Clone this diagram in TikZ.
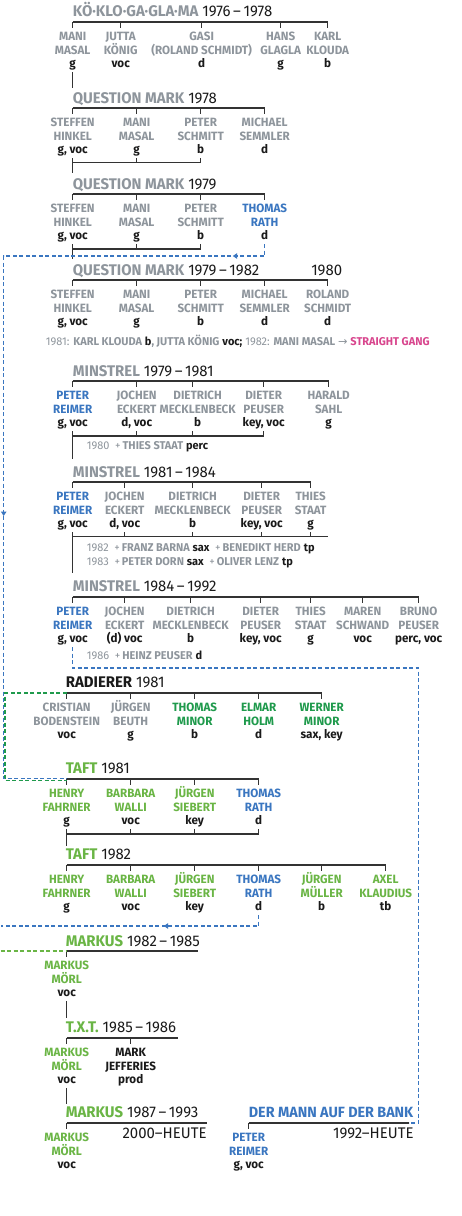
\documentclass[tikz,border=0pt]{standalone}
\usepackage{fontspec}
\setmainfont{Fira Sans}[FakeStretch=0.97]
\newfontfamily\arrowfont{DejaVu Sans}
\usetikzlibrary{arrows.meta,decorations.markings}

\definecolor{ink}{HTML}{1A1A1A}
\definecolor{stone}{HTML}{8E959C}
\definecolor{rathblue}{HTML}{3A76C0}
\definecolor{taftgreen}{HTML}{6AB545}
\definecolor{minorgreen}{HTML}{1F9A4C}
\definecolor{gangpink}{HTML}{D8458D}
\definecolor{barline}{HTML}{333333}

\newcommand{\namefont}{\fontsize{12}{13.7}\selectfont\bfseries}
\newcommand{\titlefont}{\fontsize{15.4}{18}\selectfont}
\newcommand{\notefont}{\fontsize{11.3}{13}\selectfont}
\newcommand{\who}[3]{\rule{0pt}{9.6pt}\smash{#1}\\#2\\{\color{ink}#3}\rule[-4.1pt]{0pt}{4.1pt}}
\newcommand{\band}[2]{{\color{#1}\bfseries #2}}
\newcommand{\joined}[2]{{\bfseries#1} {\bfseries\color{ink}#2}}

\begin{document}
\begin{tikzpicture}[x=1pt,y=-1pt,
  member/.style={anchor=north,align=center,inner sep=0pt,font=\namefont},
  title/.style={anchor=base west,inner sep=0pt,font=\titlefont,text=ink},
  note/.style={anchor=west,inner sep=0pt,font=\notefont,text=stone},
  bar/.style={draw=barline,line width=1.2pt},
  bluedash/.style={draw=rathblue,line width=1.4pt,dash pattern=on 4pt off 2.5pt},
  greendash/.style={line width=1.4pt,dash pattern=on 4pt off 2.5pt},
  tipat/.style={postaction={decorate,decoration={markings,mark=at position #1 with {\arrow[solid]{Triangle[length=4.5pt,width=5.5pt]}}}}}]
  \fill[white] (0,0) rectangle (461,1216);

  \node[title] (aTitle) at (72,16) {\band{stone}{KÖ·KLO·GA·GLA·MA} 1976\,–\,1978};
  \foreach \nm/\xx/\cc/\nma/\nmb/\ins in {Mani/72/stone/MANI/MASAL/g, Jutta/120/stone/JUTTA/KÖNIG/voc, Gasi/201/stone/GASI/(ROLAND SCHMIDT)/d, Hans/280/stone/HANS/GLAGLA/g, Karl/327/stone/KARL/KLOUDA/b}{
    \node[member,text=\cc] (a\nm) at (\xx,30.5) {\who{\nma}{\nmb}{\ins}};
    \draw[bar] ([yshift=8.5pt]a\nm.north) -- ([yshift=2.5pt]a\nm.north);
  }
  \draw[bar] ([yshift=8.5pt]aMani.north) -- ([yshift=8.5pt]aKarl.north);
  \draw[bar] (aMani.south) -- ++(0,16);

  \node[title] (bTitle) at (72,103) {\band{stone}{QUESTION MARK} 1978};
  \foreach \nm/\xx/\cc/\nma/\nmb/\ins in {Steffen/72/stone/STEFFEN/HINKEL/{g, voc}, Mani/136/stone/MANI/MASAL/g, Peter/200/stone/PETER/SCHMITT/b, Michael/264/stone/MICHAEL/SEMMLER/d}{
    \node[member,text=\cc] (b\nm) at (\xx,116.5) {\who{\nma}{\nmb}{\ins}};
    \draw[bar] ([yshift=8.5pt]b\nm.north) -- ([yshift=2.5pt]b\nm.north);
  }
  \draw[bar] ([yshift=8.5pt]bSteffen.north) -- ([yshift=8.5pt]bMichael.north);
  \draw[bar] ([yshift=-4.5pt]bSteffen.south) -- ([yshift=-4.5pt]bPeter.south);
  \foreach \m in {bMani,bPeter} \draw[bar] (\m.south) -- ([yshift=-4.5pt]\m.south);
  \draw[bar] (bSteffen.south) -- ++(0,14.5);

  \node[title] (cTitle) at (72,189) {\band{stone}{QUESTION MARK} 1979};
  \foreach \nm/\xx/\cc/\nma/\nmb/\ins in {Steffen/72/stone/STEFFEN/HINKEL/{g, voc}, Mani/136/stone/MANI/MASAL/g, Peter/200/stone/PETER/SCHMITT/b, Thomas/264/rathblue/THOMAS/RATH/d}{
    \node[member,text=\cc] (c\nm) at (\xx,202.5) {\who{\nma}{\nmb}{\ins}};
    \draw[bar] ([yshift=8.5pt]c\nm.north) -- ([yshift=2.5pt]c\nm.north);
  }
  \draw[bar] ([yshift=8.5pt]cSteffen.north) -- ([yshift=8.5pt]cThomas.north);
  \draw[bar] ([yshift=-5pt]cSteffen.south) -- ([yshift=-5pt]cPeter.south);
  \foreach \m in {cMani,cPeter} \draw[bar] (\m.south) -- ([yshift=-5pt]\m.south);
  \draw[bar] (cSteffen.south) -- ++(0,15);

  \node[title] (dTitle) at (72,275) {\band{stone}{QUESTION MARK} 1979\,–\,1982};
  \node[title,anchor=base] (dYear) at (326,275) {1980};
  \foreach \nm/\xx/\cc/\nma/\nmb/\ins in {Steffen/72/stone/STEFFEN/HINKEL/{g, voc}, Mani/136/stone/MANI/MASAL/g, Peter/200/stone/PETER/SCHMITT/b, Michael/264/stone/MICHAEL/SEMMLER/d, Roland/327/stone/ROLAND/SCHMIDT/d}{
    \node[member,text=\cc] (d\nm) at (\xx,288.5) {\who{\nma}{\nmb}{\ins}};
    \draw[bar] ([yshift=8.5pt]d\nm.north) -- ([yshift=2.5pt]d\nm.north);
  }
  \draw[bar] ([yshift=8.5pt]dSteffen.north) -- ([yshift=8.5pt]dRoland.north);
  \node[note] (dNote) at (45,341) {1981: \joined{KARL KLOUDA}{b}\textbf{, JUTTA KÖNIG} \textbf{\color{ink}voc;} 1982: \textbf{MANI MASAL} {\arrowfont →} \textbf{\color{gangpink}STRAIGHT GANG}};

  \node[title] (eTitle) at (72,376) {\band{stone}{MINSTREL} 1979\,–\,1981};
  \foreach \nm/\xx/\cc/\nma/\nmb/\ins in {Peter/72/rathblue/PETER/REIMER/{g, voc}, Jochen/136/stone/JOCHEN/ECKERT/{d, voc}, Dietrich/197/stone/DIETRICH/MECKLENBECK/b, Dieter/263/stone/DIETER/PEUSER/{key, voc}, Harald/328/stone/HARALD/SAHL/g}{
    \node[member,text=\cc] (e\nm) at (\xx,389.5) {\who{\nma}{\nmb}{\ins}};
  }
  \foreach \m in {ePeter,eJochen,eDieter,eHarald} \draw[bar] ([yshift=8.5pt]\m.north) -- ([yshift=2.5pt]\m.north);
  \draw[bar] ([yshift=8.5pt,xshift=-5pt]eDietrich.north) -- ([yshift=2.5pt,xshift=-5pt]eDietrich.north);
  \draw[bar] ([yshift=8.5pt]ePeter.north) -- ([yshift=8.5pt]eHarald.north);
  \draw[bar] ([yshift=-5pt]ePeter.south) -- ([yshift=-5pt]eDieter.south);
  \foreach \m in {eJochen,eDieter} \draw[bar] (\m.south) -- ([yshift=-5pt]\m.south);
  \draw[bar] ([xshift=-5pt]eDietrich.south) -- ([yshift=-5pt,xshift=-5pt]eDietrich.south);
  \draw[bar] (ePeter.south) -- ++(0,28);
  \node[note] (eNote) at (86,447) {1980\enspace+\,\joined{THIES STAAT}{perc}};

  \node[title] (fTitle) at (72,477) {\band{stone}{MINSTREL} 1981\,–\,1984};
  \foreach \nm/\xx/\cc/\nma/\nmb/\ins in {Peter/72/rathblue/PETER/REIMER/{g, voc}, Jochen/124/stone/JOCHEN/ECKERT/{d, voc}, Dietrich/192/stone/DIETRICH/MECKLENBECK/b, Dieter/261/stone/DIETER/PEUSER/{key, voc}, Thies/310/stone/THIES/STAAT/g}{
    \node[member,text=\cc] (f\nm) at (\xx,490.5) {\who{\nma}{\nmb}{\ins}};
    \draw[bar] ([yshift=8.5pt]f\nm.north) -- ([yshift=2.5pt]f\nm.north);
  }
  \draw[bar] ([yshift=8.5pt]fPeter.north) -- ([yshift=8.5pt]fThies.north);
  \draw[bar] ([yshift=-4.5pt]fPeter.south) -- ([yshift=-4.5pt,xshift=17pt]fThies.south);
  \foreach \m in {fJochen,fDietrich,fDieter,fThies} \draw[bar] (\m.south) -- ([yshift=-4.5pt]\m.south);
  \draw[bar] (fPeter.south) -- ++(0,41);
  \node[note] (fNoteA) at (86,549) {1982\enspace+\,\joined{FRANZ BARNA}{sax}\enspace+\,\joined{BENEDIKT HERD}{tp}};
  \node[note] (fNoteB) at (86,563) {1983\enspace+\,\joined{PETER DORN}{sax}\enspace+\,\joined{OLIVER LENZ}{tp}};

  \node[title] (gTitle) at (72,591) {\band{stone}{MINSTREL} 1984\,–\,1992};
  \foreach \nm/\xx/\cc/\nma/\nmb/\ins in {Peter/72/rathblue/PETER/REIMER/{g, voc}, Jochen/124/stone/JOCHEN/ECKERT/{(d) voc}, Dietrich/190/stone/DIETRICH/MECKLENBECK/b, Dieter/260/stone/DIETER/PEUSER/{key, voc}, Thies/310/stone/THIES/STAAT/g, Maren/362/stone/MAREN/SCHWAND/voc, Bruno/418/stone/BRUNO/PEUSER/{perc, voc}}{
    \node[member,text=\cc] (g\nm) at (\xx,605.5) {\who{\nma}{\nmb}{\ins}};
    \draw[bar] ([yshift=8.5pt]g\nm.north) -- ([yshift=2.5pt]g\nm.north);
  }
  \draw[bar] ([yshift=8.5pt]gPeter.north) -- ([yshift=8.5pt]gBruno.north);
  \node[note] (gNote) at (86,655) {1986\enspace+\,\joined{HEINZ PEUSER}{d}};

  \node[title] (hTitle) at (65,687) {\band{ink}{RADIERER} 1981};
  \foreach \nm/\xx/\cc/\nma/\nmb/\ins in {Cristian/66/stone/CRISTIAN/BODENSTEIN/voc, Juergen/130/stone/JÜRGEN/BEUTH/g, Thomas/194/minorgreen/THOMAS/MINOR/b, Elmar/258/minorgreen/ELMAR/HOLM/d, Werner/321/minorgreen/WERNER/MINOR/{sax, key}}{
    \node[member,text=\cc] (h\nm) at (\xx,701.5) {\who{\nma}{\nmb}{\ins}};
    \draw[bar] ([yshift=8.5pt]h\nm.north) -- ([yshift=2.5pt]h\nm.north);
  }
  \draw[bar] ([yshift=8.5pt]hCristian.north) -- ([yshift=8.5pt]hWerner.north);

  \node[title] (iTitle) at (65,773) {\band{taftgreen}{TAFT} 1981};
  \foreach \nm/\xx/\cc/\nma/\nmb/\ins in {Henry/66/taftgreen/HENRY/FAHRNER/g, Barbara/130/taftgreen/BARBARA/WALLI/voc, Juergen/194/taftgreen/JÜRGEN/SIEBERT/key, Thomas/258/rathblue/THOMAS/RATH/d}{
    \node[member,text=\cc] (i\nm) at (\xx,787.5) {\who{\nma}{\nmb}{\ins}};
    \draw[bar] ([yshift=8.5pt]i\nm.north) -- ([yshift=2.5pt]i\nm.north);
  }
  \draw[bar] ([yshift=8.5pt]iHenry.north) -- ([yshift=8.5pt]iThomas.north);
  \draw[bar] ([yshift=-5pt]iHenry.south) -- ([yshift=-5pt]iThomas.south);
  \foreach \m in {iBarbara,iJuergen,iThomas} \draw[bar] (\m.south) -- ([yshift=-5pt]\m.south);
  \draw[bar] (iHenry.south) -- ++(0,17);

  \node[title] (jTitle) at (65,859) {\band{taftgreen}{TAFT} 1982};
  \foreach \nm/\xx/\cc/\nma/\nmb/\ins in {Henry/66/taftgreen/HENRY/FAHRNER/g, Barbara/130/taftgreen/BARBARA/WALLI/voc, Juergen/194/taftgreen/JÜRGEN/SIEBERT/key, Thomas/258/rathblue/THOMAS/RATH/d, Mueller/321/taftgreen/JÜRGEN/MÜLLER/b, Axel/385/taftgreen/AXEL/KLAUDIUS/tb}{
    \node[member,text=\cc] (j\nm) at (\xx,873.5) {\who{\nma}{\nmb}{\ins}};
    \draw[bar] ([yshift=8.5pt]j\nm.north) -- ([yshift=2.5pt]j\nm.north);
  }
  \draw[bar] ([yshift=8.5pt]jHenry.north) -- ([yshift=8.5pt]jAxel.north);

  \node[title] (kTitle) at (65,946) {\band{taftgreen}{MARKUS} 1982\,–\,1985};
  \node[member,text=taftgreen] (kMarkus) at (66,959.5) {\who{MARKUS}{MÖRL}{voc}};
  \draw[bar] ([yshift=8.5pt]kMarkus.north) -- ([yshift=2.5pt]kMarkus.north);
  \draw[bar] ([yshift=8.5pt]kMarkus.north) -- ++(131,0);
  \draw[bar] (kMarkus.south) -- ++(0,17);

  \node[title] (lTitle) at (65,1032) {\band{taftgreen}{T.X.T.} 1985\,–\,1986};
  \node[member,text=taftgreen] (lMarkus) at (66,1046.5) {\who{MARKUS}{MÖRL}{voc}};
  \node[member,text=ink] (lMark) at (130,1046.5) {\who{MARK}{JEFFERIES}{prod}};
  \foreach \m in {lMarkus,lMark} \draw[bar] ([yshift=8.5pt]\m.north) -- ([yshift=2.5pt]\m.north);
  \draw[bar] ([yshift=8.5pt]lMarkus.north) -- ([yshift=8.5pt,xshift=47pt]lMark.north);
  \draw[bar] (lMarkus.south) -- ++(0,16);

  \node[title] (mTitle) at (65,1117) {\band{taftgreen}{MARKUS} 1987\,–\,1993};
  \node[member,text=taftgreen] (mMarkus) at (66,1131.5) {\who{MARKUS}{MÖRL}{voc}};
  \draw[bar] ([yshift=8.5pt]mMarkus.north) -- ([yshift=2.5pt]mMarkus.north);
  \draw[bar] ([yshift=8.5pt]mMarkus.north) -- ++(140,0);
  \node[title,anchor=base east] (mSince) at (206,1138) {2000–HEUTE};

  \node[title,font=\fontsize{14.8}{18}\selectfont] (nTitle) at (248,1117) {\band{rathblue}{DER MANN AUF DER BANK}};
  \node[member,text=rathblue] (nPeter) at (248,1131.5) {\who{PETER}{REIMER}{g, voc}};
  \coordinate (nEnd) at (408,1123);
  \draw[bar] ([yshift=8.5pt]nPeter.north) -- ([yshift=2.5pt]nPeter.north);
  \draw[bar] ([yshift=8.5pt]nPeter.north) -- (nEnd);
  \node[title,anchor=base east] (nSince) at (413,1138) {1992–HEUTE};

  \draw[greendash,draw=minorgreen] ([yshift=8.5pt]hCristian.north) -- (4.5,693) -- (4.5,780.5) -- ([yshift=7pt]iHenry.north);
  \draw[bluedash,tipat=44pt,tipat=533pt] (cThomas.south) |- (3,256) |- ([yshift=9pt]iHenry.north);
  \draw[bluedash,tipat=106pt] (jThomas.south) |- (0,926);
  \draw[greendash,draw=taftgreen] (0,951) -- ([yshift=8.5pt]kMarkus.north);
  \draw[bluedash] (gPeter.south) |- (418,668) |- (nEnd);
\end{tikzpicture}
\end{document}
